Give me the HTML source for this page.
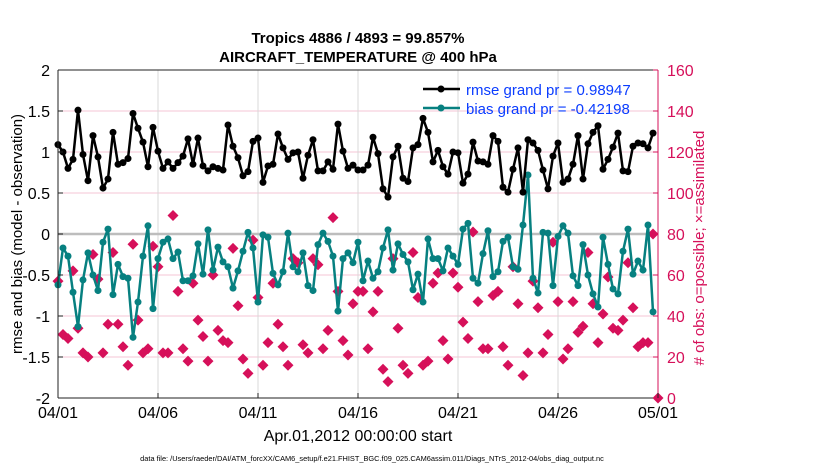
<!DOCTYPE html>
<html><head><meta charset="utf-8">
<style>
html,body{margin:0;padding:0;background:#fff;}
svg{display:block;font-family:"Liberation Sans",Arial,sans-serif;}
</style></head>
<body>
<svg id="chart" width="830" height="470" viewBox="0 0 830 470">
  <rect x="0" y="0" width="830" height="470" fill="#fff"/>
  <text x="358" y="43" text-anchor="middle" font-size="15" font-weight="bold">Tropics 4886 / 4893 = 99.857%</text>
  <text x="358" y="62" text-anchor="middle" font-size="15" font-weight="bold">AIRCRAFT_TEMPERATURE @ 400 hPa</text>
  <g id="grid"></g>
  <g id="marks"></g>
  <g id="axes"></g>
  <text transform="translate(22,234) rotate(-90)" text-anchor="middle" font-size="15">rmse and bias (model - observation)</text>
  <text transform="translate(704,248) rotate(-90)" text-anchor="middle" font-size="15" fill="#d6105a"># of obs: o=possible; ×=assimilated</text>
  <text x="358" y="441" text-anchor="middle" font-size="16">Apr.01,2012 00:00:00 start</text>
  <text x="372" y="461" text-anchor="middle" font-size="7.4">data file: /Users/raeder/DAI/ATM_forcXX/CAM6_setup/f.e21.FHIST_BGC.f09_025.CAM6assim.011/Diags_NTrS_2012-04/obs_diag_output.nc</text>
  <g id="legend">
    <line x1="423" y1="89" x2="460" y2="89" stroke="#000" stroke-width="2.5"/>
    <circle cx="441" cy="89" r="3.5" fill="#000"/>
    <text x="466" y="95" font-size="15" fill="#0a3cff">rmse grand pr = 0.98947</text>
    <line x1="423" y1="108" x2="460" y2="108" stroke="#078080" stroke-width="2.5"/>
    <circle cx="441" cy="108" r="3.5" fill="#078080"/>
    <text x="466" y="114" font-size="15" fill="#0a3cff">bias grand pr = -0.42198</text>
  </g>
</svg>
<script>
const xTickLabels = ["04/01","04/06","04/11","04/16","04/21","04/26","05/01"];
const xTickDays = [0,5,10,15,20,25,30];
const leftTicks = [-2,-1.5,-1,-0.5,0,0.5,1,1.5,2];
const rightTicks = [0,20,40,60,80,100,120,140,160];
const rmse = [1.09,1.0,0.8,0.91,1.51,0.97,0.65,1.2,0.94,0.56,0.67,1.24,0.85,0.87,0.92,1.47,1.29,1.12,0.82,1.3,1.01,0.8,0.88,0.8,0.87,0.95,1.16,0.85,1.17,0.83,0.77,
0.82,0.8,0.78,1.33,1.07,0.93,0.71,0.76,1.13,1.17,0.63,0.83,0.85,1.22,1.05,0.91,0.99,1.0,0.68,0.96,1.15,0.77,0.77,0.88,0.79,1.34,1.01,0.8,0.84,0.78,
0.78,0.84,1.18,0.98,0.55,0.45,0.94,1.07,0.68,0.64,1.05,1.09,1.41,1.24,0.88,1.02,0.82,0.73,1.0,0.99,0.62,0.73,1.12,0.89,0.88,0.85,1.2,1.13,0.57,0.51,
0.79,1.05,0.51,1.15,1.11,1.02,0.78,0.55,0.95,1.11,0.63,0.67,0.85,1.2,0.67,1.1,1.24,1.32,0.79,0.91,1.06,1.23,0.77,0.76,1.07,1.11,1.1,1.05,1.23];
const bias = [-0.62,-0.17,-0.27,-0.71,-1.13,-0.56,-0.23,-0.5,-0.69,-0.1,0.06,-0.74,-0.37,-0.52,-0.54,-1.26,-0.83,-0.27,0.1,-0.91,-0.3,-0.1,-0.06,-0.3,-0.22,-0.57,-0.57,-0.51,-0.12,-0.49,0.05,
-0.44,-0.16,-0.34,-0.4,-0.66,-0.45,-0.21,0.02,-0.17,-0.83,-0.01,-0.04,-0.48,-0.62,-0.46,0.01,-0.4,-0.46,-0.23,-0.63,-0.69,-0.13,0.01,-0.09,-0.27,-0.94,-0.3,-0.23,-0.35,-0.1,
-0.57,-0.33,-0.54,-0.46,-0.17,0.05,-0.44,-0.12,-0.25,-0.34,-0.68,-0.49,-0.83,-0.06,-0.3,-0.3,-0.45,-0.17,-0.27,-0.37,0.06,0.13,-0.54,-0.6,-0.24,0.04,-0.52,-0.46,-0.09,-0.04,
-0.4,-0.43,0.11,0.72,-0.54,-0.72,0.02,0.01,-0.63,-0.03,0.1,0.01,-0.51,-0.63,-0.13,-0.5,-0.73,-0.89,-0.04,-0.37,-0.67,-0.73,-0.21,0.06,-0.49,-0.33,-0.44,0.11,-0.95];
const obsCount = [57,31,29,62,34,22,20,70,58,22,36,71,36,25,16,75,38,22,24,74,64,22,22,89,52,24,18,56,38,30,18,
60,33,28,27,73,45,19,12,77,49,16,27,56,36,25,16,68,66,26,22,68,65,24,33,88,52,28,21,46,52,
52,24,42,52,14,8,68,34,16,12,71,49,16,18,56,61,28,19,61,54,37,29,81,47,24,24,50,52,25,16,
64,46,11,22,57,44,22,31,76,47,19,24,47,32,35,71,46,27,41,59,34,33,38,66,44,25,27,27,80,0];

const NS="http://www.w3.org/2000/svg";
const X0=58,X1=658,Y0=398,Y1=70;
const xDay=d=>X0+(d/30)*(X1-X0);
const xIdx=i=>xDay(i*0.25);
const yL=v=>Y0-(v+2)/4*(Y0-Y1);
const yR=c=>Y0-c/160*(Y0-Y1);
function mk(tag,attrs,parent){const e=document.createElementNS(NS,tag);for(const k in attrs)e.setAttribute(k,attrs[k]);parent.appendChild(e);return e;}
const grid=document.getElementById('grid'),marks=document.getElementById('marks'),axes=document.getElementById('axes');

rightTicks.forEach(c=>{ if(c>0&&c<160&&c!==80){const l=mk('line',{x1:X0,x2:X1,y1:yR(c),y2:yR(c),stroke:'#f4c6d6','stroke-width':1},grid);

}});
xTickDays.forEach(d=>{ if(d>0&&d<30){const l=mk('line',{x1:xDay(d),x2:xDay(d),y1:Y1,y2:Y0,stroke:'#d8d8d8','stroke-width':1},grid);

}});
const zl=mk('line',{x1:X0,x2:X1,y1:yL(0),y2:yL(0),stroke:'#bdbdbd','stroke-width':2.5},grid);



obsCount.forEach((c,i)=>{const x=xIdx(i),y=yR(c);
const p=mk('path',{d:`M${x} ${y-5.5}L${x+5.5} ${y}L${x} ${y+5.5}L${x-5.5} ${y}Z`,fill:'#d6105a'},marks);

});

function series(vals,color,name){
const pl=mk('polyline',{points:vals.map((v,i)=>xIdx(i)+','+yL(v)).join(' '),fill:'none',stroke:color,'stroke-width':2.5,'stroke-linejoin':'round'},marks);


vals.forEach((v,i)=>{const c=mk('circle',{cx:xIdx(i),cy:yL(v),r:3.5,fill:color},marks);

});
}
series(bias,'#078080','bias');
series(rmse,'#000000','rmse');

mk('line',{x1:X0,x2:X1,y1:Y1,y2:Y1,stroke:'#222','stroke-width':1},axes);
mk('line',{x1:X0,x2:X1,y1:Y0,y2:Y0,stroke:'#222','stroke-width':1},axes);
mk('line',{x1:X0,x2:X0,y1:Y1,y2:Y0,stroke:'#222','stroke-width':1},axes);
mk('line',{x1:X1,x2:X1,y1:Y1,y2:Y0,stroke:'#d6105a','stroke-width':1},axes);
leftTicks.forEach(v=>{mk('line',{x1:X0,x2:X0+5,y1:yL(v),y2:yL(v),stroke:'#222'},axes);
const t=mk('text',{x:X0-8,y:yL(v)+6,'text-anchor':'end','font-size':16},axes);t.textContent=String(v);

});
rightTicks.forEach(c=>{mk('line',{x1:X1,x2:X1-5,y1:yR(c),y2:yR(c),stroke:'#d6105a'},axes);
const t=mk('text',{x:X1+9,y:yR(c)+6,'font-size':16,fill:'#d6105a'},axes);t.textContent=String(c);

});
xTickDays.forEach((d,k)=>{mk('line',{x1:xDay(d),x2:xDay(d),y1:Y0,y2:Y0-5,stroke:'#222'},axes);
const t=mk('text',{x:xDay(d),y:Y0+20,'text-anchor':'middle','font-size':16},axes);t.textContent=xTickLabels[k];

});
</script>
</body></html>
